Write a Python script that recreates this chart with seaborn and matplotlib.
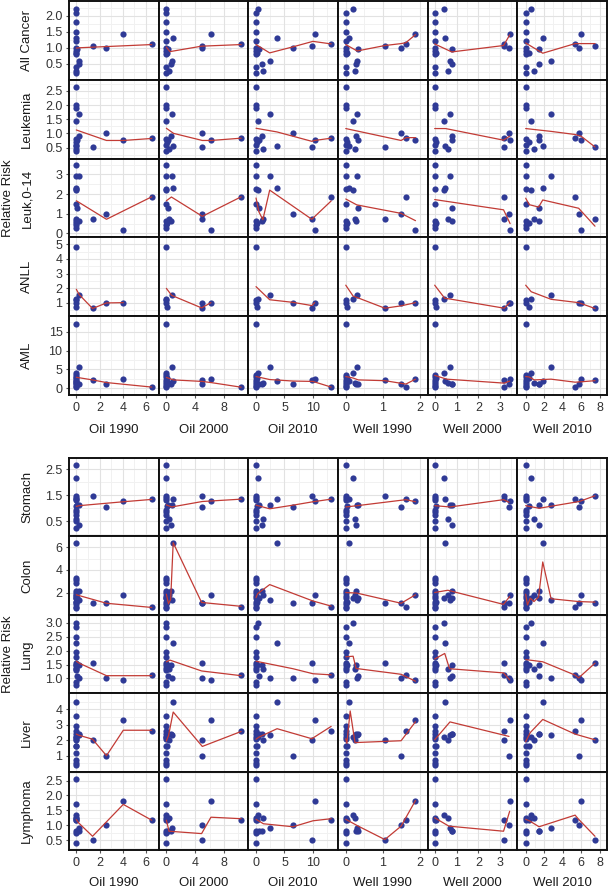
import numpy as np
import pandas as pd
import matplotlib
matplotlib.use("Agg")
import matplotlib.pyplot as plt
import seaborn as sns

nan = np.nan

# exposure of the 11 exposed areas (E1..E11) in each measure
oil_1990 = [4.05, 6.5, 1.4, 2.6, 0.0, 0.2, 0.25, 0.0, 0.0, 0.05, 0.0]
oil_2000 = [6.2, 10.4, 4.9, 5.0, 0.95, 0.74, 0.6, 0.3, 0.0, 0.2, 0.05]
oil_2010 = [10.3, 13.2, 9.8, 6.5, 3.7, 2.4, 1.1, 1.3, 0.3, 0.5, 0.2]
well_1990 = [1.89, 1.63, 1.06, 1.5, 0.1, 0.31, 0.28, 0.25, 0.2, 0.34, 0.03]
well_2000 = [3.43, 3.15, 3.18, 3.4, 0.48, 0.7, 0.78, 0.6, 0.44, 0.8, 0.05]
well_2010 = [6.0, 5.35, 7.5, 5.73, 1.85, 2.75, 1.45, 0.95, 0.6, 1.4, 0.35]

measures = ["Oil 1990", "Oil 2000", "Oil 2010", "Well 1990", "Well 2000", "Well 2010"]
exposures = [oil_1990, oil_2000, oil_2010, well_1990, well_2000, well_2010]

# relative risks: exposed areas (E1..E11) and unexposed areas (exposure 0)
rr_all_cancer = [1.42, 1.12, 1.06, 1.0, 1.31, 0.6, 0.5, 0.27, 2.22, 0.95, 0.85]
rr0_all_cancer = [2.07, 1.82, 1.5, 1.2, 1.0, 0.9, 0.8, 0.4, 0.22]
rr_leukemia = [0.75, 0.83, 0.52, 1.02, 0.55, 1.68, 0.9, 0.45, 1.45, 0.75, 0.7]
rr0_leukemia = [2.62, 2.0, 1.9, 0.8, 0.6, 0.37]
rr_leuk_0_14 = [0.2, 1.85, 0.74, 1.0, 2.32, 2.9, 0.65, 0.72, 2.19, 1.28, 0.55]
rr0_leuk_0_14 = [3.45, 2.9, 2.25, 1.5, 0.65, 0.45, 0.3]
rr_anll = [1.0, nan, 0.6, 1.0, nan, 1.52, nan, nan, 1.27, nan, 0.73]
rr0_anll = [4.82, 1.18, 1.0]
rr_aml = [2.4, 0.27, 2.2, 1.07, 2.0, 5.6, 1.2, 1.5, 4.0, 1.07, 2.7]
rr0_aml = [17.1, 3.6, 2.9, 2.2, 1.6, 1.2, 0.7, 0.45]
rr_stomach = [1.26, 1.35, 1.48, 1.03, 1.35, 1.13, 0.37, 0.59, 2.16, 1.13, 1.1]
rr0_stomach = [2.67, 1.48, 1.39, 1.3, 0.95, 0.85, 0.75, 0.5, 0.25]
rr_colon = [1.8, 0.68, 1.05, 1.05, 6.4, 1.35, 2.1, 1.8, 1.5, 1.5, 1.2]
rr0_colon = [3.3, 3.1, 2.85, 2.1, 1.95, 1.7, 1.5, 1.2, 1.0, 0.75, 0.6]
rr_lung = [0.95, 1.12, 1.56, 1.02, 2.27, 1.02, 1.5, 1.35, 2.98, 1.1, 1.47]
rr0_lung = [2.86, 2.48, 1.95, 1.76, 1.56, 1.47, 1.39, 1.3, 0.86, 0.77]
rr_liver = [3.29, 2.57, 2.03, 1.0, 4.47, 2.33, 2.4, 2.03, 2.2, 2.4, 1.6]
rr0_liver = [3.6, 2.9, 2.6, 2.4, 2.2, 2.05, 1.6, 1.2, 0.72, 0.53, 0.4]
rr_lymphoma = [1.83, 1.17, 0.52, 1.0, nan, 0.92, 0.8, 1.25, 1.34, 0.8, 1.17]
rr0_lymphoma = [2.55, 1.72, 1.25, 1.17, 0.8, 0.75, 0.41]

# smoothed fits, one list of (exposure, RR) per measure
fit_all_cancer = [
    [(0, 0.99), (0.25, 1.0), (6.5, 1.1)],
    [(0, 1.02), (0.5, 0.88), (4.9, 1.05), (10.4, 1.1)],
    [(0, 1.1), (2.4, 0.84), (6.5, 1.03), (10, 1.2), (13.2, 1.12)],
    [(0, 1.1), (0.31, 0.9), (1.06, 1.07), (1.5, 1.13), (1.63, 1.16), (1.89, 1.41)],
    [(0, 1.12), (0.78, 0.87), (3.15, 1.07), (3.43, 1.4)],
    [(0, 1.15), (1.85, 0.83), (5.35, 1.13), (7.5, 1.13)],
]
fit_leukemia = [
    [(0, 1.12), (2.6, 0.75), (4.05, 0.75), (6.5, 0.82)],
    [(0, 1.18), (1.0, 1.0), (5.0, 0.75), (6.2, 0.75), (10.4, 0.83)],
    [(0, 1.18), (3.7, 1.05), (9.8, 0.72), (10.3, 0.75), (13.2, 0.83)],
    [(0, 1.17), (1.5, 0.75), (1.63, 0.85), (1.89, 0.85)],
    [(0, 1.17), (0.5, 1.17), (3.15, 0.76), (3.43, 0.9)],
    [(0, 1.17), (2.75, 1.07), (5.35, 0.96), (6.0, 0.9), (7.5, 0.52)],
]
fit_leuk_0_14 = [
    [(0, 1.66), (2.6, 0.72), (6.5, 1.86)],
    [(0, 1.66), (0.7, 1.85), (5.0, 0.87), (10.4, 1.86)],
    [(0, 1.8), (0.5, 1.1), (1.2, 0.7), (2.4, 2.2), (9.8, 0.72), (13.2, 1.65)],
    [(0, 1.75), (0.3, 1.45), (1.5, 1.02), (1.89, 0.65)],
    [(0, 1.72), (3.15, 1.2), (3.45, 0.5)],
    [(0, 1.79), (0.4, 1.46), (1.4, 1.34), (1.85, 1.7), (5.73, 1.28), (7.5, 0.37)],
]
fit_anll = [
    [(0, 1.92), (0.25, 1.55), (1.4, 0.6), (2.6, 0.98), (4.05, 1.0)],
    [(0, 1.98), (0.74, 1.5), (4.9, 0.64), (6.2, 1.0)],
    [(0, 2.1), (2.4, 1.2), (6.5, 1.02), (9.8, 0.8), (10.3, 1.0)],
    [(0, 2.2), (0.2, 1.45), (0.31, 1.35), (1.06, 0.62), (1.5, 0.78), (1.89, 1.0)],
    [(0, 2.2), (0.46, 1.3), (0.7, 1.25), (3.18, 0.62), (3.43, 1.0)],
    [(0, 2.2), (0.6, 1.75), (2.75, 1.23), (5.73, 1.0), (7.5, 0.6)],
]
fit_aml = [
    [(0, 2.9), (1.4, 2.2), (2.6, 1.5), (4.05, 1.05), (6.5, 0.3)],
    [(0, 2.86), (1.0, 2.2), (5.0, 1.8), (6.2, 1.5), (10.4, 0.27)],
    [(0, 3.1), (2.4, 2.3), (6.5, 1.9), (10, 1.8), (13.2, 0.3)],
    [(0, 3.1), (0.2, 2.7), (0.34, 2.2), (1.06, 2.0), (1.5, 1.3), (1.63, 1.1), (1.89, 2.4)],
    [(0, 3.4), (0.55, 2.4), (3.18, 1.35), (3.43, 1.9)],
    [(0, 3.1), (0.35, 3.0), (0.95, 2.2), (2.75, 2.4), (5.35, 1.6), (6.0, 1.7), (7.5, 2.0)],
]
fit_stomach = [
    [(0, 1.07), (0.25, 1.1), (4.05, 1.25), (6.5, 1.34)],
    [(0, 1.13), (0.74, 1.05), (5.0, 1.26), (10.4, 1.35)],
    [(0, 1.12), (2.4, 0.98), (6.5, 1.12), (10, 1.25), (13.2, 1.35)],
    [(0, 1.05), (0.31, 1.1), (1.63, 1.33), (1.89, 1.25)],
    [(0, 1.1), (0.7, 1.05), (3.15, 1.33), (3.4, 1.23)],
    [(0, 1.1), (1.45, 1.0), (5.8, 1.26), (7.5, 1.48)],
]
fit_colon = [
    [(0, 1.8), (2.6, 1.05), (6.5, 0.68)],
    [(0, 1.85), (0.3, 1.0), (0.6, 1.4), (0.95, 6.4), (4.9, 1.12), (10.4, 0.78)],
    [(0, 1.55), (0.3, 1.9), (2.4, 2.7), (10, 1.25), (13.2, 0.8)],
    [(0, 2.0), (0.3, 1.95), (1.5, 1.05), (1.89, 1.8)],
    [(0, 2.0), (0.6, 2.2), (3.15, 0.95), (3.43, 1.65)],
    [(0, 1.85), (0.2, 0.9), (0.5, 1.5), (0.9, 1.2), (1.4, 1.6), (1.85, 4.7),
     (2.75, 1.45), (5.73, 1.2), (7.5, 1.15)],
]
fit_lung = [
    [(0, 1.62), (0.25, 1.55), (2.6, 1.1), (4.05, 1.1), (6.5, 1.1)],
    [(0, 1.6), (0.5, 1.66), (4.9, 1.27), (10.4, 1.1)],
    [(0, 1.62), (6.5, 1.35), (10, 1.17), (13.2, 1.13)],
    [(0, 1.78), (0.2, 1.8), (0.28, 1.36), (1.5, 1.15), (1.89, 0.9)],
    [(0, 1.7), (0.46, 1.9), (0.68, 1.35), (3.15, 1.2), (3.43, 0.95)],
    [(0, 1.68), (1.85, 1.6), (5.35, 1.12), (5.73, 1.02), (7.5, 1.55)],
]
fit_liver = [
    [(0, 2.4), (0.2, 2.33), (1.4, 2.07), (2.6, 1.0), (4.05, 2.65), (6.5, 2.65)],
    [(0, 1.95), (0.3, 2.3), (0.95, 3.83), (5.0, 1.6), (10.4, 2.57)],
    [(0, 2.07), (0.5, 2.2), (3.7, 2.75), (9.8, 2.1), (13.2, 2.9)],
    [(0, 2.1), (0.03, 1.8), (0.12, 3.9), (0.25, 1.85), (1.5, 1.97), (1.89, 3.2)],
    [(0, 2.03), (0.7, 3.19), (3.4, 2.25)],
    [(0, 1.9), (0.5, 2.5), (1.85, 3.35), (5.35, 2.4), (7.5, 2.03)],
]
fit_lymphoma = [
    [(0, 1.19), (0.2, 1.08), (1.4, 0.63), (4.05, 1.7), (6.5, 1.17)],
    [(0, 1.17), (0.37, 0.8), (4.9, 0.72), (6.2, 1.27), (10.4, 1.22)],
    [(0, 1.2), (1.3, 1.05), (6.5, 0.95), (10, 1.15), (13.2, 1.22)],
    [(0, 1.2), (0.34, 0.97), (1.06, 0.52), (1.5, 0.97), (1.89, 1.83)],
    [(0, 1.25), (0.65, 0.97), (3.15, 0.8), (3.43, 1.47)],
    [(0, 1.2), (0.4, 1.15), (1.45, 0.95), (5.35, 1.34), (5.73, 1.2), (7.5, 0.63)],
]

# two blocks of panels: name, exposed RR, unexposed RR, fits, y ticks, y limits
block_top = [
    ("All Cancer", rr_all_cancer, rr0_all_cancer, fit_all_cancer, [0.5, 1.0, 1.5, 2.0], (0.0, 2.46)),
    ("Leukemia", rr_leukemia, rr0_leukemia, fit_leukemia, [0.5, 1.0, 1.5, 2.0, 2.5], (0.11, 2.89)),
    ("Leuk,0-14", rr_leuk_0_14, rr0_leuk_0_14, fit_leuk_0_14, [0, 1, 2, 3], (-0.2, 3.8)),
    ("ANLL", rr_anll, rr0_anll, fit_anll, [1, 2, 3, 4, 5], (0.07, 5.48)),
    ("AML", rr_aml, rr0_aml, fit_aml, [0, 5, 10, 15], (-1.8, 19.1)),
]
block_bottom = [
    ("Stomach", rr_stomach, rr0_stomach, fit_stomach, [0.5, 1.5, 2.5], (-0.08, 2.93)),
    ("Colon", rr_colon, rr0_colon, fit_colon, [2, 4, 6], (0.03, 6.96)),
    ("Lung", rr_lung, rr0_lung, fit_lung, [1.0, 1.5, 2.0, 2.5, 3.0], (0.47, 3.29)),
    ("Liver", rr_liver, rr0_liver, fit_liver, [1, 2, 3, 4], (-0.03, 5.05)),
    ("Lymphoma", rr_lymphoma, rr0_lymphoma, fit_lymphoma, [0.5, 1.0, 1.5, 2.0, 2.5], (0.17, 2.8)),
]
x_ticks = [[0, 2, 4, 6], [0, 4, 8], [0, 5, 10], [0, 1, 2], [0, 1, 2, 3], [0, 2, 4, 6, 8]]
x_lims = [(-0.63, 7.1), (-1.07, 11.4), (-1.35, 14.4), (-0.21, 2.22), (-0.32, 3.78), (-0.9, 8.8)]

BLUE = "#2f3a96"
RED = "#c23b35"

sns.set_theme(style="white")
plt.rcParams["font.family"] = ["Liberation Sans", "DejaVu Sans"]

W, H = 609, 891
fig = plt.figure(figsize=(W / 100, H / 100), dpi=100)


def minor_lines(ticks, lim):
    step = ticks[1] - ticks[0]
    cand = [t - step / 2 for t in ticks] + [ticks[-1] + step / 2]
    return [c for c in cand if lim[0] < c < lim[1]]


def draw_block(block, top_px, row_h, xlabel_y):
    col_w = (607 - 69) / 6
    for r, (name, rr, rr0, fits, yt, ylim) in enumerate(block):
        for c in range(6):
            left = 69 + c * col_w
            top = top_px + r * row_h
            ax = fig.add_axes([left / W, 1 - (top + row_h) / H, col_w / W, row_h / H])
            xs = list(exposures[c]) + [0.0] * len(rr0)
            ys = list(rr) + list(rr0)
            pts = pd.DataFrame({"x": xs, "y": ys}).dropna()
            fit = pd.DataFrame(fits[c], columns=["x", "y"])

            for v in minor_lines(yt, ylim):
                ax.axhline(v, color="#f1f1f1", lw=0.7, zorder=0)
            for v in minor_lines(x_ticks[c], x_lims[c]):
                ax.axvline(v, color="#f1f1f1", lw=0.7, zorder=0)
            for v in yt:
                ax.axhline(v, color="#e2e2e2", lw=0.8, zorder=0)
            for v in x_ticks[c]:
                ax.axvline(v, color="#e2e2e2", lw=0.8, zorder=0)

            sns.scatterplot(data=pts, x="x", y="y", ax=ax, color=BLUE, s=20,
                            linewidth=0, zorder=3)
            sns.lineplot(data=fit, x="x", y="y", ax=ax, color=RED, lw=0.9,
                         sort=False, estimator=None, zorder=4)

            ax.set_xlim(*x_lims[c])
            ax.set_ylim(*ylim)
            ax.set_xticks(x_ticks[c])
            ax.set_yticks(yt)
            ax.set_xlabel("")
            ax.set_ylabel("")
            ax.grid(False)
            for s in ax.spines.values():
                s.set_color("#111111")
                s.set_linewidth(1.4)

            show_y = c == 0
            show_x = r == len(block) - 1
            ax.tick_params(axis="y", left=show_y, labelleft=show_y, length=2.5,
                           width=0.8, color="#555555", pad=2.2, labelsize=9,
                           labelcolor="#333333")
            ax.tick_params(axis="x", bottom=show_x, labelbottom=show_x, length=2.5,
                           width=0.8, color="#555555", pad=2.5, labelsize=9,
                           labelcolor="#333333")
            if show_y:
                ax.set_yticklabels([f"{t:g}" if isinstance(t, int) else f"{t:.1f}" for t in yt])
                fig.text(27 / W, 1 - (top + row_h / 2) / H, name, rotation=90,
                         ha="center", va="center", fontsize=9.5, color="#1a1a1a")
            if show_x:
                fig.text((left + col_w / 2) / W, 1 - xlabel_y / H, measures[c],
                         ha="center", va="center", fontsize=9.5, color="#1a1a1a")

    mid = top_px + len(block) * row_h / 2
    fig.text(8 / W, 1 - mid / H, "Relative Risk", rotation=90, ha="center",
             va="center", fontsize=9.5, color="#1a1a1a")


draw_block(block_top, 1, (395 - 1) / 5, 430)
draw_block(block_bottom, 458, (850 - 458) / 5, 883)

fig.savefig("out.png", dpi=100)
